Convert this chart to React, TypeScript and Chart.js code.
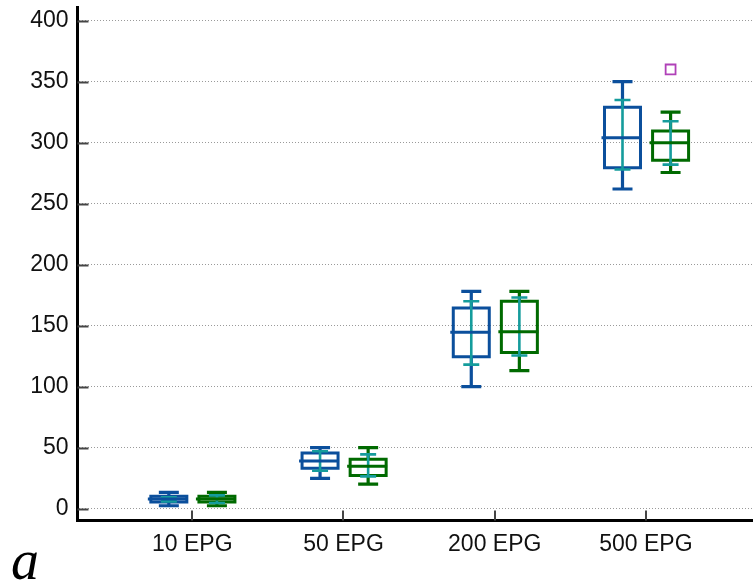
import React, { useEffect, useRef } from "react";
import { Chart, registerables } from "chart.js";

Chart.register(...registerables);

const categories = ["10 EPG", "50 EPG", "200 EPG", "500 EPG"];
const yTicks = [0, 50, 100, 150, 200, 250, 300, 350, 400];

// Series A (blue)
const whiskerLowA = [2.3, 24.7, 100, 262];
const q1A = [5.3, 33, 124.5, 279.5];
const medianA = [7.8, 39, 144.5, 304];
const q3A = [10, 45.5, 164.5, 329];
const whiskerHighA = [13.3, 50, 178, 350];
const sdLowA = [5.9, 31, 118, 278];
const sdHighA = [9.2, 47, 170, 335];

// Series B (green)
const whiskerLowB = [2.3, 20, 113, 275.5];
const q1B = [5.3, 27, 128, 285.5];
const medianB = [7.8, 34.6, 145, 300];
const q3B = [10, 40.5, 170, 309.5];
const whiskerHighB = [13.3, 50, 178, 325];
const sdLowB = [4.6, 26.4, 125.5, 282];
const sdHighB = [10.8, 44.4, 173, 317.5];
const outlierCatB = [3];
const outlierValB = [360];

const OFFSET_A = -0.155;
const OFFSET_B = 0.163;

const BLUE = "#0b4f9c";
const GREEN = "#006a00";
const CYAN = "#159c9c";
const MAGENTA = "#b040b8";

type BoxSeries = {
  offset: number;
  color: string;
  wl: number[];
  q1: number[];
  med: number[];
  q3: number[];
  wh: number[];
  sl: number[];
  sh: number[];
};

const seriesList: BoxSeries[] = [
  { offset: OFFSET_A, color: BLUE, wl: whiskerLowA, q1: q1A, med: medianA, q3: q3A, wh: whiskerHighA, sl: sdLowA, sh: sdHighA },
  { offset: OFFSET_B, color: GREEN, wl: whiskerLowB, q1: q1B, med: medianB, q3: q3B, wh: whiskerHighB, sl: sdLowB, sh: sdHighB },
];

const boxPlugin = {
  id: "boxPlugin",
  afterDatasetsDraw(chart: any) {
    const ctx = chart.ctx;
    const xs = chart.scales.x;
    const ys = chart.scales.y;
    const area = chart.chartArea;
    ctx.save();
    // inward tick marks
    ctx.strokeStyle = "#444";
    ctx.lineWidth = 2;
    yTicks.forEach((v) => {
      const y = Math.round(ys.getPixelForValue(v)) + 0.5;
      ctx.beginPath();
      ctx.moveTo(area.left, y);
      ctx.lineTo(area.left + 11, y);
      ctx.stroke();
    });
    categories.forEach((_, i) => {
      const x = Math.round(xs.getPixelForValue(i));
      ctx.beginPath();
      ctx.moveTo(x, area.bottom);
      ctx.lineTo(x, area.bottom - 10);
      ctx.stroke();
    });

    const halfBox = 18;
    const halfCap = 10;
    const halfSd = 8;
    seriesList.forEach((s) => {
      categories.forEach((_, i) => {
        const cx = xs.getPixelForValue(i + s.offset);
        const pWl = ys.getPixelForValue(s.wl[i]);
        const pWh = ys.getPixelForValue(s.wh[i]);
        const pQ1 = ys.getPixelForValue(s.q1[i]);
        const pQ3 = ys.getPixelForValue(s.q3[i]);
        const pMed = ys.getPixelForValue(s.med[i]);
        const pSl = ys.getPixelForValue(s.sl[i]);
        const pSh = ys.getPixelForValue(s.sh[i]);
        ctx.strokeStyle = s.color;
        ctx.lineCap = "butt";
        // whiskers
        ctx.lineWidth = 3.2;
        ctx.beginPath();
        ctx.moveTo(cx, pWh);
        ctx.lineTo(cx, pQ3);
        ctx.moveTo(cx, pQ1);
        ctx.lineTo(cx, pWl);
        ctx.stroke();
        ctx.beginPath();
        ctx.moveTo(cx - halfCap, pWh);
        ctx.lineTo(cx + halfCap, pWh);
        ctx.moveTo(cx - halfCap, pWl);
        ctx.lineTo(cx + halfCap, pWl);
        ctx.stroke();
        // box
        ctx.lineWidth = 3;
        ctx.beginPath();
        ctx.rect(cx - halfBox, pQ3, halfBox * 2, pQ1 - pQ3);
        ctx.stroke();
        // sd line (cyan)
        ctx.strokeStyle = CYAN;
        ctx.lineWidth = 2.6;
        ctx.beginPath();
        ctx.moveTo(cx, pSh);
        ctx.lineTo(cx, pSl);
        ctx.moveTo(cx - halfSd, pSh);
        ctx.lineTo(cx + halfSd, pSh);
        ctx.moveTo(cx - halfSd, pSl);
        ctx.lineTo(cx + halfSd, pSl);
        ctx.stroke();
        // median
        ctx.strokeStyle = s.color;
        ctx.lineWidth = 3;
        ctx.beginPath();
        ctx.moveTo(cx - halfBox - 3, pMed);
        ctx.lineTo(cx + halfBox + 1, pMed);
        ctx.stroke();
      });
    });
    ctx.restore();
  },
};

export default function App() {
  const ref = useRef<HTMLCanvasElement | null>(null);
  useEffect(() => {
    if (!ref.current) return;
    const chart = new Chart(ref.current, {
      type: "scatter",
      data: {
        datasets: [
          {
            label: "outliers",
            data: outlierCatB.map((c, i) => ({ x: c + OFFSET_B, y: outlierValB[i] })),
            pointStyle: "rect",
            pointRadius: 7,
            borderColor: MAGENTA,
            backgroundColor: "rgba(0,0,0,0)",
            borderWidth: 1.8,
          },
        ],
      },
      options: {
        responsive: false,
        animation: false,
        layout: { autoPadding: false, padding: { top: 7, right: 0, left: 0, bottom: 0 } },
        plugins: { legend: { display: false }, tooltip: { enabled: false } },
        scales: {
          x: {
            type: "linear",
            min: -0.759,
            max: 3.708,
            afterBuildTicks: (s: any) => {
              s.ticks = categories.map((_, i) => ({ value: i }));
            },
            afterFit: (s: any) => {
              s.height = 62.5;
              s.paddingLeft = 0;
              s.paddingRight = 0;
            },
            grid: { display: false, drawTicks: false },
            border: { display: true, color: "#000", width: 3 },
            ticks: {
              color: "#111",
              font: { family: "'Liberation Sans', Arial, sans-serif", size: 23 },
              padding: 10,
              maxRotation: 0,
              autoSkip: false,
              callback: (v: any) => categories[v as number] ?? "",
            },
          },
          y: {
            type: "linear",
            min: -9.8,
            max: 411.2,
            afterBuildTicks: (s: any) => {
              s.ticks = yTicks.map((v) => ({ value: v }));
            },
            afterFit: (s: any) => {
              s.width = 77.5;
              s.paddingTop = 0;
              s.paddingBottom = 0;
            },
            grid: {
              display: true,
              drawTicks: false,
              color: "#9a9a9a",
              lineWidth: 1,
            },
            border: { display: true, color: "#000", width: 3, dash: [1, 2] as any },
            ticks: {
              color: "#111",
              font: { family: "'Liberation Sans', Arial, sans-serif", size: 23 },
              padding: 9,
            },
          },
        },
      },
      plugins: [boxPlugin],
    });
    return () => chart.destroy();
  }, []);

  return (
    <div style={{ position: "fixed", left: 0, top: 0, width: 753, height: 583, background: "#fff" }}>
      <canvas ref={ref} width={753} height={583} style={{ display: "block" }} />
      <span
        style={{
          position: "absolute",
          left: 11,
          top: 530,
          fontFamily: "'Liberation Serif', 'Times New Roman', serif",
          fontStyle: "italic",
          fontSize: 56,
          lineHeight: "60px",
          color: "#000",
        }}
      >
        a
      </span>
    </div>
  );
}
